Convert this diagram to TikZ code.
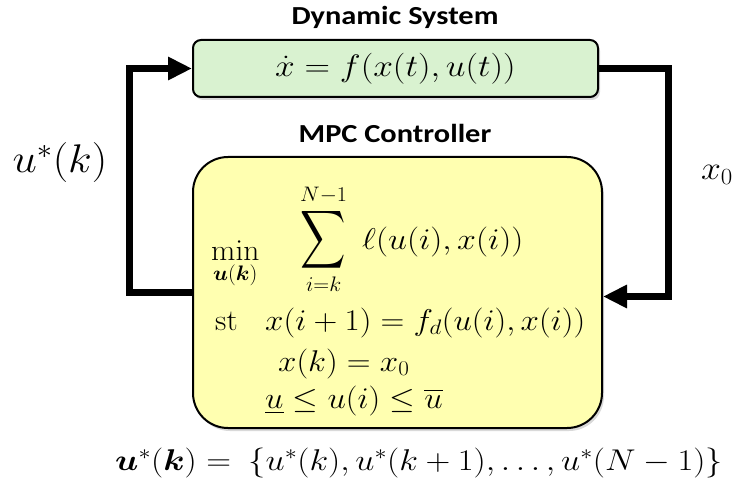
\RequirePackage{fix-cm}
\documentclass[tikz,border=0pt]{standalone}
\usepackage{amsmath,amssymb,bm,graphicx}
\usepackage[no-math]{fontspec}
\setmainfont{Carlito}
\usetikzlibrary{arrows.meta,shadows}
\definecolor{sysgreen}{RGB}{217,242,208}
\definecolor{ctrlyellow}{RGB}{255,255,176}
\newcommand\hs[2]{\scalebox{#1}[1]{#2}}
\begin{document}
\begin{tikzpicture}[x=1pt,y=-1pt,
  title/.style={font=\fontsize{26}{30}\selectfont\bfseries, inner sep=0pt},
  mathlbl/.style={font=\fontsize{30}{34}\selectfont, inner sep=0pt, anchor=base west},
  sysbox/.style={draw=black, line width=2pt, fill=sysgreen, rounded corners=8pt,
    drop shadow={opacity=0.3, shadow xshift=2pt, shadow yshift=-3pt}},
  ctrlbox/.style={draw=black, line width=2pt, fill=ctrlyellow, rounded corners=35pt,
    drop shadow={opacity=0.3, shadow xshift=2pt, shadow yshift=-3pt}},
  flow/.style={line width=7pt, -{Triangle[length=24pt,width=22pt]}, line join=miter}
]
\useasboundingbox (0,0) rectangle (737,484);
\node[title] (systitle) at (395,17) {\hs{1.17}{Dynamic System}};
\node[sysbox, minimum width=405pt, minimum height=57pt, inner sep=0pt, font=\fontsize{31}{34}\selectfont] (sys) at (395.5,68.5) {\hs{1.14}{$\dot{x} = f(x(t),u(t))$}\hspace{26pt}};
\node[title] (ctrltitle) at (395,133) {\hs{1.17}{MPC Controller}};
\node[ctrlbox, minimum width=409pt, minimum height=271pt] (ctrl) at (397.5,292.5) {};
\node[mathlbl] (min) at (211,260) {\hs{1.05}{$\displaystyle\min_{\bm{u}(\bm{k})}$}};
\node[mathlbl] (sum) at (300,250) {\hs{1.05}{$\displaystyle\mathop{\scalebox{1}[1.35]{$\displaystyle\sum$}}\limits_{i=k}^{N-1}$}};
\node[mathlbl] (cost) at (362,250) {\hs{1.13}{$\ell(u(i),x(i))$}};
\node[mathlbl] (st) at (215,330) {\hs{1.05}{$\mathrm{st}$}};
\node[mathlbl] (dyn) at (265,330) {\hs{1.1}{$x(i+1) = f_d(u(i),x(i))$}};
\node[mathlbl] (init) at (278,371) {\hs{1.1}{$x(k) = x_0$}};
\node[mathlbl] (bnd) at (265,408) {\hs{1.1}{$\underline{u} \le u(i) \le \overline{u}$}};
\node[font=\fontsize{40}{44}\selectfont, inner sep=0pt] (ulbl) at (60,163) {\hs{1.09}{$u^*(k)$}};
\node[font=\fontsize{33}{36}\selectfont, inner sep=0pt] (xlbl) at (717,175) {\hs{1.08}{$x_0$}};
\node[mathlbl] (seq) at (115,470) {\hs{1.145}{$\bm{u}^*(\bm{k}) = \ \{u^*(k),u^*(k+1),\ldots,u^*(N-1)\}$}};
\draw[flow] (ctrl.west) -- ++(-63,0) |- (sys.west);
\draw[flow] (sys.east) -- ++(69,0) |- ([yshift=-4pt]ctrl.east);
\end{tikzpicture}
\end{document}
